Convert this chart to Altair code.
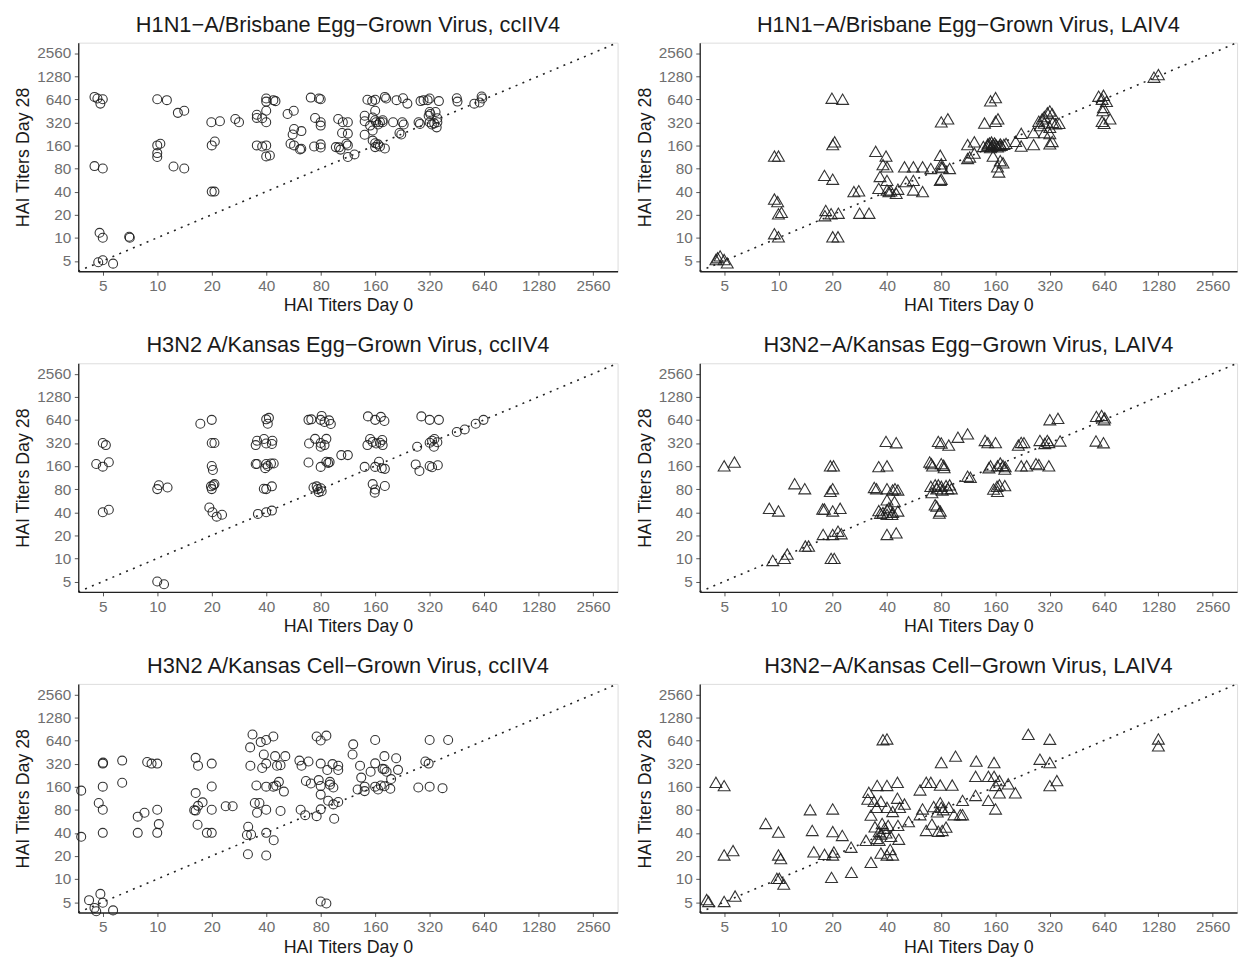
import altair as alt
import pandas as pd

TICKS = [5, 10, 20, 40, 80, 160, 320, 640, 1280, 2560]
LO, HI = 5 / 2 ** 0.45, 2560 * 2 ** 0.45

titles = [
    "H1N1−A/Brisbane Egg−Grown Virus, ccIIV4",
    "H1N1−A/Brisbane Egg−Grown Virus, LAIV4",
    "H3N2 A/Kansas Egg−Grown Virus, ccIIV4",
    "H3N2−A/Kansas Egg−Grown Virus, LAIV4",
    "H3N2 A/Kansas Cell−Grown Virus, ccIIV4",
    "H3N2−A/Kansas Cell−Grown Virus, LAIV4",
]

p1_day0 = [4.5, 4.67, 5, 4.85, 4.5, 5, 4.8, 5, 4.72, 5, 5.7, 7.0, 7.05,
           10, 11.3, 13, 14.1, 10, 10.4, 10, 10, 12.3, 14.1,
           19.9, 22.2, 27, 28.3, 20, 20.8, 20, 20.7,
           35.5, 35.5, 38, 40, 40, 40, 43.8, 45, 40, 35.5, 38, 40, 40, 41.9,
           52.5, 56.8, 57, 56, 62.6, 54.5, 57, 61.5, 62.5, 70.5, 78.3, 80, 74.5, 80, 80, 73.6, 80, 80,
           100, 106, 113, 105, 113, 97, 101, 103, 111, 113, 123, 113,
           140, 140, 140, 145, 160, 160, 155, 160, 150, 155, 162, 166, 170, 176, 181, 184, 155, 160, 160, 166, 170, 181, 176, 154,
           201, 210, 228, 241, 218, 223, 226, 230, 278, 283, 285, 296, 312, 320, 320, 323, 316, 345, 353, 320, 329, 339, 350, 353, 360, 452, 456, 565, 605, 620, 625]
p1_day28 = [686, 653, 640, 561, 86, 80, 11.6, 10, 4.8, 5.1, 4.6, 10.3, 10,
            640, 622, 425, 452, 160, 168, 127, 113, 85, 80,
            320, 330, 353, 320, 160, 180, 40, 40,
            402, 365, 362, 452, 653, 596, 622, 604, 320, 160, 155, 160, 115, 118,
            410, 452, 262, 222, 246, 168, 160, 142, 145, 672, 653, 640, 365, 320, 290, 155, 165, 150,
            353, 320, 320, 232, 228, 152, 151, 141, 168, 160, 122, 113,
            389, 330, 220, 630, 630, 452, 370, 340, 290, 250, 320, 300, 320, 340, 686, 653, 185, 171, 152, 165, 155, 146, 320, 605,
            320, 622, 660, 561, 232, 222, 320, 300, 320, 305, 605, 622, 622, 653, 437, 410, 389, 437, 362, 320, 300, 310, 275, 320, 605, 660, 596, 560, 580, 695, 653]

p2_day0 = [4.6, 4.75, 4.5, 5, 5.2, 9.5, 10, 9.5, 9.9, 10, 10.4, 9.5, 10,
           19.8, 22.7, 20, 20.5, 18, 20, 18.3, 18.1, 19.6, 21.5, 20, 21.4,
           26.2, 27.9, 28.2, 31.8,
           34.6, 36, 36.6, 39.5, 38, 40, 40, 40, 41, 42, 45, 46,
           50, 51, 56, 56, 56, 63, 63, 70, 79, 80, 80, 81, 79, 80, 89, 80, 87,
           112, 122, 115, 122, 112, 139, 150, 160, 160, 165,
           137, 145, 152, 160, 164, 170, 178, 152, 155, 164, 170, 176, 167, 150, 158, 172, 183, 162,
           145, 155, 148, 168,
           207, 222, 222, 260, 260,
           278, 290, 298, 310, 320, 330, 298, 283, 320, 332, 345, 360, 320, 298, 330, 320,
           597, 635, 624, 660, 635, 630, 624, 640, 690, 1210, 1280]
p2_day28 = [5.5, 5.8, 5.2, 5.2, 4.7, 116, 116, 32, 29.6, 20.5, 21.4, 11.3, 10.3,
            660, 640, 164, 178, 65, 58, 22.7, 19.4, 20.6, 20.9, 10.3, 10.3,
            40, 41, 20.9, 20.9,
            134, 44, 63, 116, 90, 84, 56, 42, 40, 41, 38, 43,
            84, 54, 84, 56, 42, 84, 40, 80, 119, 92, 84, 82, 56, 58, 80, 324, 355,
            164, 178, 113, 127, 108, 313, 610, 672, 330, 355,
            155, 167, 156, 165, 153, 167, 165, 177, 116, 84, 101, 95, 72, 150, 172, 160, 170, 160,
            160, 165, 172, 158,
            181, 230, 157, 235, 164,
            331, 355, 380, 425, 450, 415, 313, 290, 275, 320, 305, 310, 228, 235, 180, 168,
            700, 720, 640, 600, 500, 455, 330, 310, 355, 1240, 1340]

p3_day0 = [4.6, 5, 5.4, 5, 5.2, 5, 5.4,
           10, 10.9, 10, 10.2, 11.4,
           17.3, 20, 20, 20.7, 20, 20.3, 19.8, 20.4, 20.7, 20, 19.4, 20.2, 21.3, 22.8,
           35, 35.6, 38.9, 40, 43.3, 43, 40, 41.4, 40.8, 35, 35.6, 40, 39.5, 40.8, 42.5, 44, 38.8, 40, 43, 36, 40, 43,
           68.5, 71, 81, 80, 84, 89, 91, 69, 74.5, 80, 80, 84, 86, 68.5, 80, 86, 89.6, 88, 73, 76, 77, 80, 81, 78,
           104, 113,
           146, 160, 172, 180, 145, 150, 155, 162, 170, 175, 176, 140, 160, 168, 174, 181, 155, 160, 159, 181,
           288, 320, 360, 273, 320, 330, 338, 353, 340, 268, 281, 320, 330, 355,
           452, 500, 575, 635]
p3_day28 = [170, 157, 179, 320, 300, 40, 43,
            5, 4.6, 80, 90, 84,
            570, 640, 320, 320, 160, 142, 87, 90, 93, 80, 46, 40, 35, 37,
            300, 342, 360, 315, 342, 310, 650, 680, 570, 170, 170, 170, 150, 160, 173, 173, 81, 80, 87, 38, 40, 42,
            640, 650, 720, 640, 600, 630, 565, 315, 362, 320, 285, 300, 362, 178, 156, 182, 180, 175, 84, 87, 80, 82, 75, 73,
            222, 222,
            710, 640, 700, 618, 300, 360, 330, 315, 322, 350, 300, 156, 156, 182, 150, 147, 93, 79, 72, 88,
            710, 640, 640, 285, 322, 342, 285, 327, 360, 168, 138, 160, 154, 164,
            445, 480, 570, 640]

p4_day0 = [5, 5.7, 8.9, 10, 12.3, 14, 10.8, 9.3, 11.2, 14.1, 14.7,
           17.7, 20, 21.4, 22.3, 19.6, 20.4, 17.6, 18, 20, 22, 19.4, 20, 19.4, 20.2,
           36, 40, 39.5, 45, 34, 35, 40, 43, 44.3, 46, 40, 44, 36, 36.8, 38, 40, 40, 41, 42.6, 46, 40, 45, 43,
           69, 70.5, 71.6, 80, 82.5, 83, 70, 71, 74, 75.5, 77, 80, 81, 85, 87, 89, 91, 74, 75.5, 79, 78, 77, 80, 88, 99, 112, 112, 116,
           140, 145, 160, 147, 150, 164, 170, 176, 181, 180, 156, 164, 163, 168, 180,
           214, 222, 230, 222, 238, 268, 278, 316, 282, 310, 300, 316, 365, 320, 355,
           577, 635, 580, 620, 640, 645]
p4_day28 = [161, 180, 45, 41.5, 94, 81, 10, 9.4, 11.4, 14.5, 14.5,
            20.5, 20.5, 22.6, 21, 10, 10, 44, 44, 41.5, 45, 75, 81, 161, 161,
            157, 161, 335, 322, 84, 81, 81, 78, 81, 78, 58, 55, 42, 38.7, 39.6, 43, 37.5, 46, 37.5, 41.5, 20.5, 21.5, 40,
            181, 172, 161, 172, 164, 153, 87, 72, 91, 81, 91, 87, 78, 89, 81, 91, 81, 50, 48, 41.5, 39, 335, 320, 300, 380, 420, 118, 114,
            345, 323, 323, 152, 161, 161, 175, 163, 157, 146, 80, 75, 87, 91, 89,
            300, 325, 323, 161, 161, 172, 167, 161, 345, 345, 315, 325, 340, 643, 670,
            340, 322, 710, 730, 643, 680]

p5_day0 = [3.8, 3.8, 4.2, 4.5, 4.6, 4.85, 5, 5.7, 4.75, 5, 5, 5, 5.02, 5, 6.4, 6.4,
           7.8, 8.5, 7.8, 8.8, 9.3, 10, 10, 10.2, 10,
           16.3, 16.8, 16.3, 16, 16.3, 16.8, 17.8, 16.7, 18.8, 20, 20, 20, 20, 23.9, 26.1,
           33.6, 32.6, 37.3, 40, 43.8, 32.7, 38.8, 40, 38, 44.8, 45.9, 48, 51, 35.3, 40, 43.8, 45.4, 47, 50.1, 34.6, 36.7, 35.6, 40, 48, 31.8, 31.3, 33, 40, 44, 31.7, 40,
           61, 62.7, 68.5, 66.3, 70.6, 62, 65.7, 76, 86, 80, 80, 78, 80, 80, 80, 76, 93, 100, 87, 100, 90, 90, 94, 88, 94, 100, 95, 80, 86,
           121, 120, 132, 134, 128, 140, 140, 151, 160, 160, 160, 166, 172, 180, 176, 180, 185, 180, 209, 214, 196, 194,
           277, 303, 316, 320, 320, 377, 405]
p5_day28 = [142, 35.5, 5.3, 4.2, 3.8, 6.4, 4.9, 3.9, 98, 80, 160, 320, 329, 40, 350, 180,
            65, 73, 40, 335, 320, 320, 80, 52, 40,
            380, 300, 132, 79, 78, 90, 100, 51, 40, 40, 320, 161, 80, 89, 89,
            767, 520, 610, 650, 720, 300, 420, 320, 280, 400, 300, 305, 400, 166, 160, 160, 165, 185, 138, 98, 98, 73, 80, 77, 48, 37.5, 38, 40, 32, 21, 20.3,
            350, 300, 340, 190, 176, 80, 68, 720, 740, 640, 320, 195, 163, 126, 81, 66, 315, 300, 264, 264, 185, 170, 156, 105, 94, 101, 61, 5.1, 4.8,
            570, 420, 300, 210, 147, 160, 140, 250, 650, 322, 160, 147, 166, 162, 273, 270, 250, 400, 375, 265, 201, 150,
            156, 340, 320, 650, 160, 153, 650]

p6_day0 = [4.0, 4.1, 5, 5.75, 4.5, 5, 5, 5.6,
           8.5, 10, 10, 10.3, 9.8, 10.1, 10.7,
           15, 15.4, 15.7, 18, 20, 20.3, 20, 20, 22.6, 19.7, 25.3, 25.4,
           30.6, 32.6, 31.7, 31.3, 32.6, 35, 33.9, 37, 35.3, 40, 38, 40, 34.3, 36.2, 37, 37.6, 38.8, 39.5, 40.6, 36.2, 35.2, 37, 40, 41.7, 43, 42, 40, 45.7, 45.7, 43, 47, 50, 52.7, 46, 46.5,
           61, 66, 70, 63, 61, 66, 71, 72.6, 76, 79, 80, 82, 79, 80, 77, 81, 85, 88, 92, 94, 102, 105, 105,
           96, 125, 124, 124, 146, 146, 157, 157, 160, 160, 168, 168, 188, 206,
           243, 282, 320, 320, 320, 350, 1280, 1280]
p6_day28 = [5.4, 5.1, 5.1, 6, 182, 165, 20.6, 23.5,
            53, 41, 20.6, 18.5, 10.2, 10.2, 8.6,
            80, 43, 22.6, 21, 20.6, 22.5, 82, 41.5, 37, 10.5, 26, 12.2,
            32, 16.5, 135, 110, 68, 86, 103, 103, 166, 166, 655, 670, 48, 41.5, 38.6, 53, 46, 40, 50, 32, 33.8, 21.8, 20.6, 24.3, 20.6, 36, 86, 113, 182, 76, 86, 95, 56, 50, 33,
            145, 182, 182, 82, 69, 43, 52, 88, 75, 99, 86, 80, 168, 330, 42, 43, 47.5, 86, 168, 69, 69, 69, 106,
            400, 345, 123, 218, 218, 106, 330, 218, 166, 82, 192, 133, 174, 133,
            770, 365, 665, 330, 165, 192, 670, 545]

FONT = "Liberation Sans"


def axis(title, title_pad):
    return alt.Axis(
        title=title, values=TICKS, format="d", grid=False,
        domainColor="#222222", domainWidth=1.3,
        tickColor="#555555", tickSize=4, tickWidth=1,
        labelColor="#6e6e6e", labelFontSize=15.5, labelFont=FONT,
        labelPadding=3.5, labelOverlap=False, labelFlush=False,
        titleFont=FONT, titleFontSize=18, titleFontWeight="normal",
        titleColor="#1a1a1a", titlePadding=title_pad,
    )


def panel(title, day0, day28, shape, size, width):
    df = pd.DataFrame({"day0": day0, "day28": day28})
    diag = pd.DataFrame({"day0": [LO, HI], "day28": [LO, HI]})
    sc = alt.Scale(type="log", base=2, domain=[LO, HI], nice=False, zero=False)
    x = alt.X("day0:Q", scale=sc, axis=axis("HAI Titers Day 0", 3))
    y = alt.Y("day28:Q", scale=sc, axis=axis("HAI Titers Day 28", 4))
    line = alt.Chart(diag).mark_line(
        color="#222222", strokeDash=[2, 5.5], strokeWidth=1.6
    ).encode(x=x, y=y)
    pts = alt.Chart(df).mark_point(
        shape=shape, filled=False, color="#1e1e1e", size=size,
        strokeWidth=1.1, opacity=0.9
    ).encode(x=x, y=y)
    return alt.layer(line, pts).properties(
        width=width, height=231,
        title=alt.TitleParams(title, font=FONT, fontSize=22, fontWeight="normal",
                              color="#1a1a1a", anchor="middle", offset=3),
    )


datasets = [(p1_day0, p1_day28), (p2_day0, p2_day28), (p3_day0, p3_day28),
            (p4_day0, p4_day28), (p5_day0, p5_day28), (p6_day0, p6_day28)]

panels = []
for i, (d0, d28) in enumerate(datasets):
    if i % 2 == 0:
        panels.append(panel(titles[i], d0, d28, "circle", 82, 545))
    else:
        panels.append(panel(titles[i], d0, d28, "triangle-up", 145, 543))

rows = [alt.hconcat(panels[0], panels[1], spacing=14),
        alt.hconcat(panels[2], panels[3], spacing=14),
        alt.hconcat(panels[4], panels[5], spacing=14)]

chart = alt.vconcat(*rows, spacing=18).properties(
    padding={"left": 6, "top": 0, "right": 4, "bottom": 0}
).configure_view(stroke=None).configure(background="white")

chart.save("out.html", embed_options={"renderer": "svg", "actions": False})
